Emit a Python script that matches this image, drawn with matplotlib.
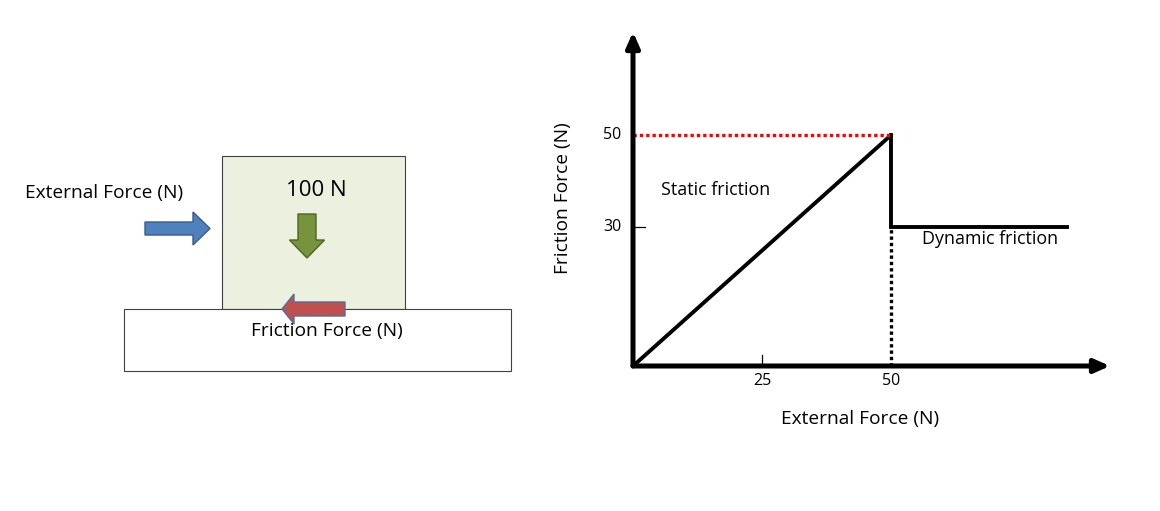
import matplotlib
matplotlib.use("Agg")
import matplotlib.pyplot as plt
import matplotlib.patches as mpatches

plt.rcParams['font.family'] = ['Open Sans', 'DejaVu Sans']

# friction curve data
static_x = [0, 50]
static_y = [0, 50]
dynamic_x = [50, 50, 84]
dynamic_y = [50, 30, 30]
peak_level = 50
dynamic_level = 30
x_ticks = [25, 50]
y_ticks = [30, 50]
x_max = 92.4
y_max = 72.3

W, H = 1160, 511
fig = plt.figure(figsize=(W / 100, H / 100), dpi=100)

# ---- left: block diagram, drawn in pixel coordinates ----
axl = fig.add_axes([0, 0, 580 / W, 1])
axl.set_xlim(0, 580)
axl.set_ylim(H, 0)
axl.axis("off")

axl.add_patch(mpatches.Rectangle((222, 156), 183, 153, facecolor="#EBF1DE",
                                 edgecolor="#404040", lw=0.8))
axl.add_patch(mpatches.Rectangle((124, 309), 387, 62, facecolor="white",
                                 edgecolor="#404040", lw=0.8))

# external force arrow (blue)
axl.add_patch(mpatches.FancyArrow(145, 228.5, 65, 0, width=13, head_width=33,
                                  head_length=17, length_includes_head=True,
                                  facecolor="#4F81BD", edgecolor="#385D8A", lw=1))
# weight arrow (green)
axl.add_patch(mpatches.FancyArrow(307, 214, 0, 44, width=18, head_width=35,
                                  head_length=18, length_includes_head=True,
                                  facecolor="#77933C", edgecolor="#4F6228", lw=1))
# friction arrow (red)
axl.add_patch(mpatches.FancyArrow(345, 309, -63, 0, width=14, head_width=30,
                                  head_length=12, length_includes_head=True,
                                  facecolor="#C0504D", edgecolor="#4F6FA0", lw=1))

axl.text(104, 193, "External Force (N)", fontsize=13.8, ha="center", va="center")
axl.text(316, 190, "100 N", fontsize=16, ha="center", va="center")
axl.text(327, 331, "Friction Force (N)", fontsize=13.8, ha="center", va="center")

# ---- right: friction force graph ----
x0, y0, x1, y1 = 633, 366, 1110, 32
ax = fig.add_axes([x0 / W, (H - y0) / H, (x1 - x0) / W, (y0 - y1) / H])
ax.set_xlim(0, x_max)
ax.set_ylim(0, y_max)
for s in ax.spines.values():
    s.set_visible(False)
ax.set_xticks([])
ax.set_yticks([])

# axes with arrow heads
ax.annotate("", xy=(1, 0), xytext=(0, 0), xycoords="axes fraction",
            arrowprops=dict(arrowstyle="-|>,head_length=0.9,head_width=0.4",
                            lw=3.6, color="black", shrinkA=0, shrinkB=0))
ax.annotate("", xy=(0, 1), xytext=(0, 0), xycoords="axes fraction",
            arrowprops=dict(arrowstyle="-|>,head_length=0.9,head_width=0.4",
                            lw=3.6, color="black", shrinkA=0, shrinkB=0))

ax.plot(static_x, static_y, color="black", lw=2.8, solid_capstyle="butt",
        clip_on=False)
ax.plot(dynamic_x, dynamic_y, color="black", lw=2.8, solid_joinstyle="miter",
        clip_on=False)
ax.plot([0, static_x[-1]], [peak_level, peak_level], color="red", lw=2.4,
        linestyle=(0, (1, 0.9)), clip_on=False)
ax.plot([dynamic_x[0], dynamic_x[0]], [0, dynamic_level], color="black", lw=2.4,
        linestyle=(0, (1, 0.9)), clip_on=False)

# small tick marks and labels
ax.plot([x_ticks[0], x_ticks[0]], [0, 2.3], color="black", lw=0.9)
ax.plot([0, 2.3], [y_ticks[0], y_ticks[0]], color="black", lw=0.9)
for v in x_ticks:
    ax.text(v, -3.2, str(v), fontsize=11.5, ha="center", va="center")
for v in y_ticks:
    ax.text(-4.0, v, str(v), fontsize=11.5, ha="center", va="center")

ax.text(5.5, 38, "Static friction", fontsize=12.9, ha="left", va="center")
ax.text(56, 27.5, "Dynamic friction", fontsize=12.9, ha="left", va="center")

ax.text(44, -11.5, "External Force (N)", fontsize=13.8, ha="center", va="center")
ax.text(-13.5, 36.4, "Friction Force (N)", fontsize=13.8, ha="center",
        va="center", rotation=90)

fig.savefig("out.png", dpi=100)
